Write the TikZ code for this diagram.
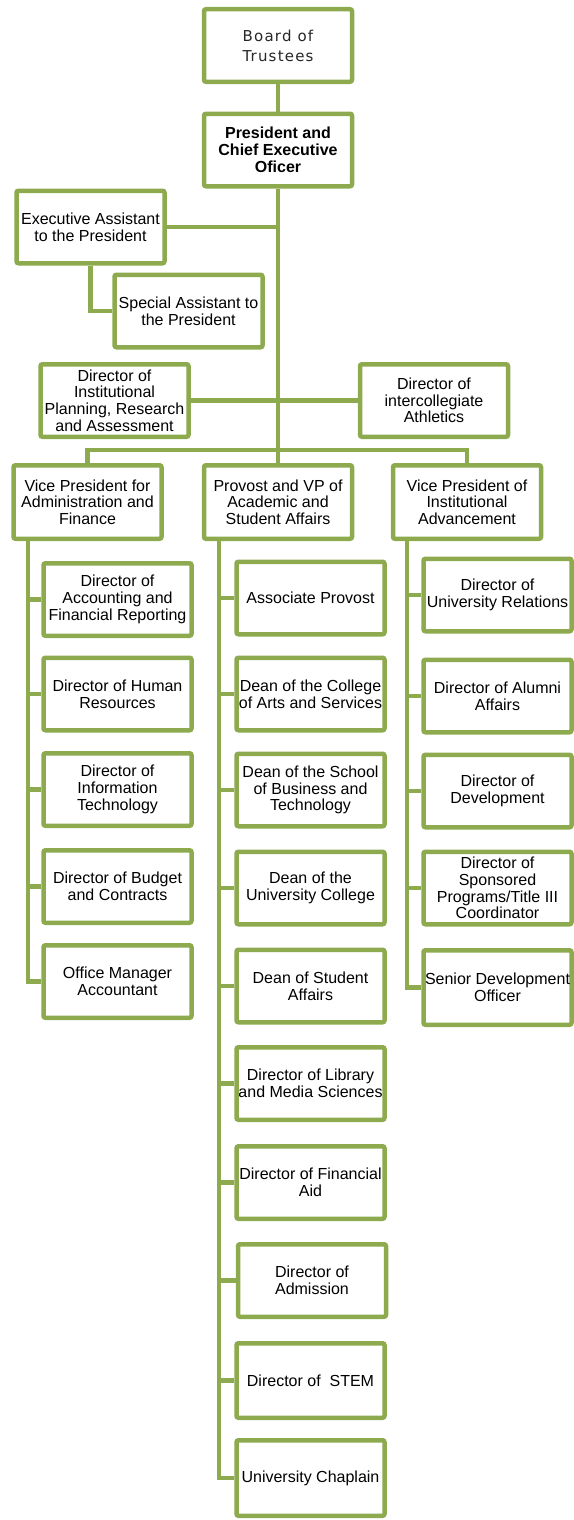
\documentclass[tikz,border=0pt]{standalone}
\usepackage{fontspec}
\setmainfont{Liberation Sans}
\newfontfamily\boardfont[LetterSpace=8]{DejaVu Sans}
\usepackage{xcolor}
\usepackage{tikz}
\usetikzlibrary{positioning}
\definecolor{orgreen}{RGB}{141,170,79}
\tikzstyle{unit} = [rectangle, rounded corners=2pt, minimum width=148pt, minimum height=72.5pt, text centered, align=center, draw=orgreen, line width=4.5pt, fill=white, inner sep=1pt, font=\fontsize{16}{16.7}\selectfont]
\tikzstyle{link} = [draw=orgreen, line width=4.5pt]

\begin{document}
\begin{tikzpicture}[x=1pt, y=-1pt]
\useasboundingbox (0,0) rectangle (573,1520);

% top of the chart
\node (board) [unit, font=\boardfont\fontsize{15}{20}\selectfont, text=black!85] at (278,45.5) {Board of\\Trustees};
\node (pres) [unit, font=\bfseries\fontsize{16}{16.8}\selectfont] at (278,150) {President and\\Chief Executive\\Oficer};
\node (exec) [unit] at (90.5,227) {Executive Assistant\\to the President};
\node (special) [unit] at (188.5,311) {Special Assistant to\\the President};
\node (ipra) [unit] at (114.5,400.5) {Director of\\Institutional\\Planning, Research\\and Assessment};
\node (athl) [unit] at (434,400.5) {Director of\\intercollegiate\\Athletics};

% vice presidents
\node (vpaf) [unit, minimum height=73.5pt] at (87.5,502) {Vice President for\\Administration and\\Finance};
\node (prov) [unit, minimum height=73.5pt] at (278,502) {Provost and VP of\\Academic and\\Student Affairs};
\node (vpia) [unit, minimum height=73.5pt] at (467,502) {Vice President of\\Institutional\\Advancement};

% administration and finance
\node (acct) [unit] at (117.5,599.5) {Director of\\Accounting and\\Financial Reporting};
\node (hr) [unit] at (117.5,694) {Director of Human\\Resources};
\node (it) [unit] at (117.5,789.5) {Director of\\Information\\Technology};
\node (budget) [unit] at (117.5,886.5) {Director of Budget\\and Contracts};
\node (office) [unit] at (117.5,981.5) {Office Manager\\Accountant};

% academic and student affairs
\node (assoc) [unit] at (310.5,598) {Associate Provost};
\node (arts) [unit] at (310.5,694) {Dean of the College\\of Arts and Services};
\node (business) [unit] at (310.5,790) {Dean of the School\\of Business and\\Technology};
\node (univcol) [unit] at (310.5,888) {Dean of the\\University College};
\node (student) [unit] at (310.5,986) {Dean of Student\\Affairs};
\node (library) [unit] at (310.5,1083.5) {Director of Library\\and Media Sciences};
\node (finaid) [unit] at (310.5,1182.5) {Director of Financial\\Aid};
\node (admission) [unit] at (312,1280.5) {Director of\\Admission};
\node (stem) [unit, minimum height=74.5pt] at (310.5,1380.5) {Director of~ STEM};
\node (chaplain) [unit, minimum height=75.5pt] at (310.5,1478) {University Chaplain};

% institutional advancement
\node (urel) [unit] at (497.5,595) {Director of\\University Relations};
\node (alumni) [unit] at (497.5,696) {Director of Alumni\\Affairs};
\node (devel) [unit] at (497.5,791) {Director of\\Development};
\node (sponsored) [unit] at (497.5,888) {Director of\\Sponsored\\Programs/Title III\\Coordinator};
\node (senior) [unit, minimum height=74.5pt] at (497.5,987.5) {Senior Development\\Officer};

\coordinate (bus) at (278,450);
\coordinate (afrail) at (28,0);
\coordinate (asrail) at (219,0);
\coordinate (iarail) at (407,0);

\draw [link] (board) -- (pres);
\draw [link] (pres.south) -- (prov.north);
\draw [link] (exec.east) -- (exec.east -| pres.south);
\draw [link] (exec.south) |- (special.west);
\draw [link] (ipra.east) -- (ipra.east -| pres.south);
\draw [link] (athl.west) -- (athl.west -| pres.south);
\draw [link] (vpaf.north) |- (bus) -- (bus -| vpia.north) -- (vpia.north);

\draw [link] (vpaf.south -| afrail) |- (office.west);
\draw [link] (acct.west -| afrail) -- (acct.west);
\draw [link] (hr.west -| afrail) -- (hr.west);
\draw [link] (it.west -| afrail) -- (it.west);
\draw [link] (budget.west -| afrail) -- (budget.west);

\draw [link] (prov.south -| asrail) |- (chaplain.west);
\draw [link] (assoc.west -| asrail) -- (assoc.west);
\draw [link] (arts.west -| asrail) -- (arts.west);
\draw [link] (business.west -| asrail) -- (business.west);
\draw [link] (univcol.west -| asrail) -- (univcol.west);
\draw [link] (student.west -| asrail) -- (student.west);
\draw [link] (library.west -| asrail) -- (library.west);
\draw [link] (finaid.west -| asrail) -- (finaid.west);
\draw [link] (admission.west -| asrail) -- (admission.west);
\draw [link] (stem.west -| asrail) -- (stem.west);

\draw [link] (vpia.south -| iarail) |- (senior.west);
\draw [link] (urel.west -| iarail) -- (urel.west);
\draw [link] (alumni.west -| iarail) -- (alumni.west);
\draw [link] (devel.west -| iarail) -- (devel.west);
\draw [link] (sponsored.west -| iarail) -- (sponsored.west);

\end{tikzpicture}
\end{document}
